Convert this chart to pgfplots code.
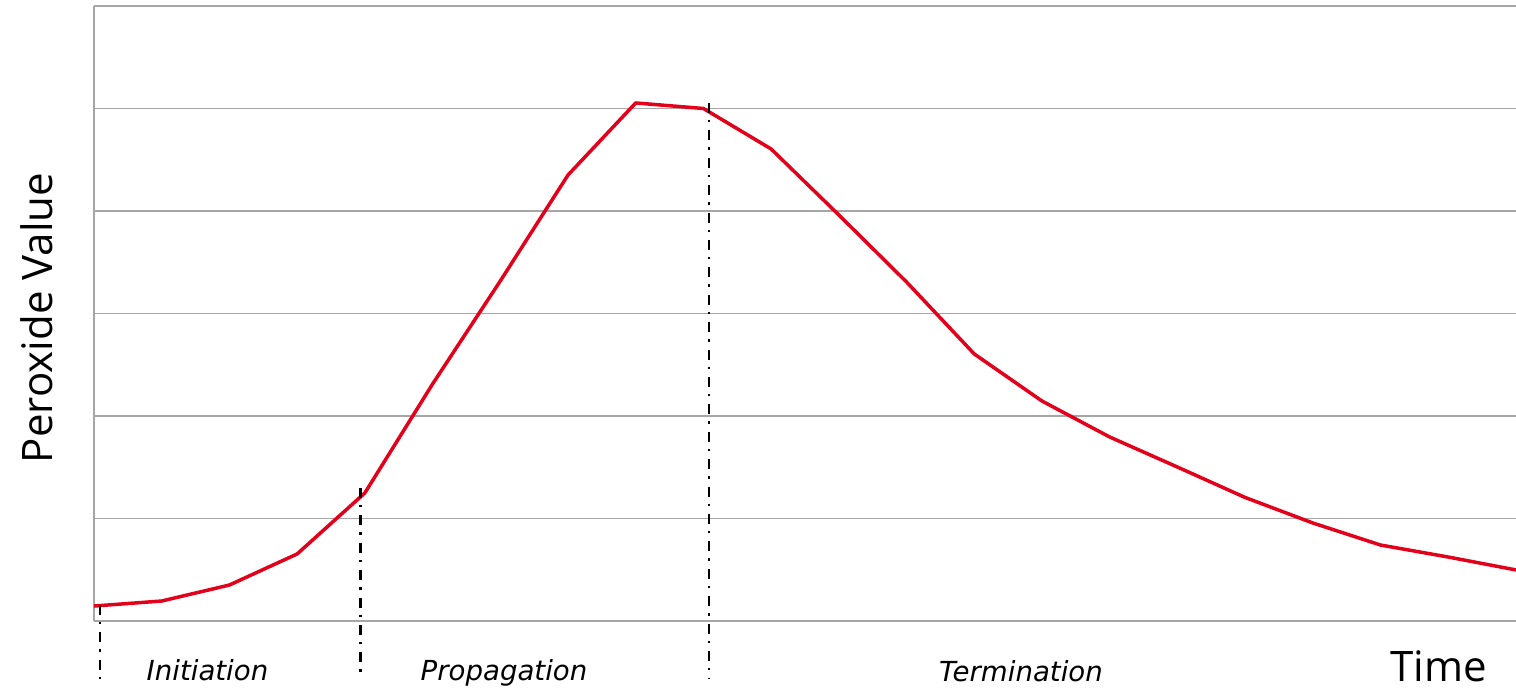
\documentclass[border=0pt]{standalone}
\usepackage{pgfplots}
\pgfplotsset{compat=1.18}
\usepackage{fontspec}
\setmainfont{DejaVu Sans}
\newfontfamily\labfont{Open Sans}
\definecolor{gridc}{RGB}{166,166,166}
\definecolor{curvered}{RGB}{226,0,26}
\begin{document}
\begin{tikzpicture}
\useasboundingbox (-47pt,-34.5pt) rectangle (711pt,310.5pt);
\begin{axis}[
  at={(0,0)}, anchor=south west,
  scale only axis, width=711pt, height=307.5pt,
  xmin=0, xmax=21, ymin=0, ymax=6,
  axis x line*=bottom, axis y line*=left,
  x axis line style={-}, y axis line style={-},
  axis line style={draw=gridc, line width=0.7pt},
  xtick=\empty, ytick={1,2,3,4,5,6}, yticklabels={},
  major tick length=0pt,
  ymajorgrids, grid style={draw=gridc, line width=0.7pt},
  clip=false,
]
\addplot[curvered, line width=1.75pt, line join=round, mark=none] coordinates {
(0,0.146) (1,0.195) (2,0.351) (3,0.654) (4,1.249) (5,2.312) (6,3.317)
(7,4.351) (8,5.054) (9,5.0) (10,4.605) (11,3.961) (12,3.307) (13,2.605)
(14,2.146) (15,1.795) (16,1.502) (17,1.205) (18,0.956) (19,0.741)
(20,0.624) (21,0.498)};
\addplot[black, line width=1.3pt, dash pattern=on 5pt off 3.5pt on 1.2pt off 4pt] coordinates {(0.0886,0.156) (0.0886,-0.595)};
\addplot[black, line width=1.3pt, dash pattern=on 5pt off 3.5pt on 1.2pt off 4pt] coordinates {(3.936,1.298) (3.936,-0.556)};
\addplot[black, line width=1.3pt, dash pattern=on 5pt off 3.5pt on 1.2pt off 4pt] coordinates {(9.082,5.054) (9.082,-0.566)};
\node[anchor=base, font=\fontsize{13.8pt}{16pt}\selectfont\itshape, inner sep=0pt] at (axis cs:1.676,-0.585) {Initiation};
\node[anchor=base, font=\fontsize{13.8pt}{16pt}\selectfont\itshape, inner sep=0pt] at (axis cs:6.055,-0.576) {Propagation};
\node[anchor=base, font=\fontsize{13.8pt}{16pt}\selectfont\itshape, inner sep=0pt] at (axis cs:13.69,-0.595) {Termination};
\node[anchor=base, font=\labfont\fontsize{21pt}{24pt}\selectfont, inner sep=0pt] at (axis cs:19.855,-0.59) {Time};
\node[anchor=base, rotate=90, font=\labfont\fontsize{21pt}{24pt}\selectfont, inner sep=0pt] at (axis cs:-0.620,2.956) {Peroxide Value};
\end{axis}
\end{tikzpicture}
\end{document}
